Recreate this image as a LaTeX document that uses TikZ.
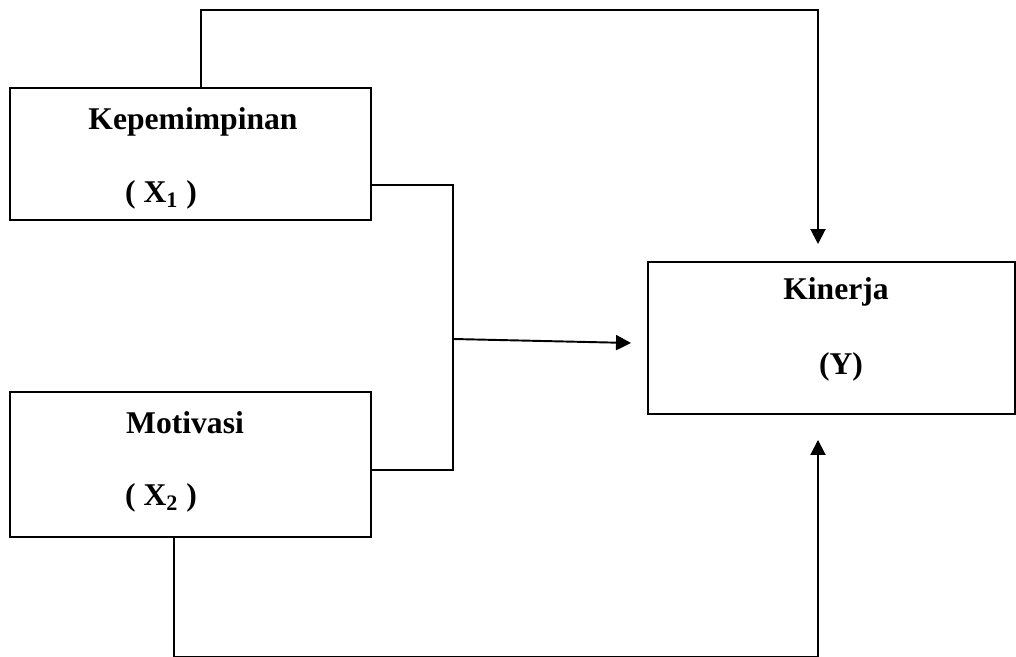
\documentclass[tikz,border=0pt]{standalone}
\usepackage{fontspec}
\setmainfont{Liberation Serif}
\usetikzlibrary{arrows.meta}

\begin{document}
\begin{tikzpicture}[>={Triangle[width=0.3cm,length=0.3cm]}, line width=1.1pt,
    box/.style={draw, rectangle, minimum width=7.22cm},
    lbl/.style={font=\fontsize{18}{22}\selectfont\bfseries}]
    \useasboundingbox (0, 0) rectangle (20.32, 13.14);
    \node[box, minimum height=2.64cm] (kep) at (3.81, 10.06) {};
    \node[box, minimum height=2.9cm] (mot) at (3.81, 3.85) {};
    \node[box, minimum width=7.34cm, minimum height=3.04cm] (kin) at (16.63, 6.38) {};
    \node[lbl] (kepname) at (3.86, 10.7) {Kepemimpinan};
    \node[lbl] (kepvar) at (3.22, 9.24) {( X\textsubscript{1} )};
    \node[lbl] (motname) at (3.7, 4.68) {Motivasi};
    \node[lbl] (motvar) at (3.22, 3.18) {( X\textsubscript{2} )};
    \node[lbl] (kinname) at (16.72, 7.3) {Kinerja};
    \node[lbl] (kinvar) at (16.82, 5.8) {(Y)};
    \coordinate (mid) at (9.06, 6.36);
    \draw[->] ([xshift=0.21cm]kep.north) -- ++(0, 1.54) -| ([xshift=-0.27cm, yshift=0.34cm]kin.north);
    \draw ([yshift=-0.62cm]kep.east) -| (mid) |- ([yshift=-0.11cm]mot.east);
    \draw[->] (mid) -- ([xshift=-0.32cm, yshift=-0.1cm]kin.west);
    \draw[->] ([xshift=-0.33cm]mot.south) -- ++(0, -2.38) -| ([xshift=-0.27cm, yshift=-0.5cm]kin.south);
\end{tikzpicture}
\end{document}
